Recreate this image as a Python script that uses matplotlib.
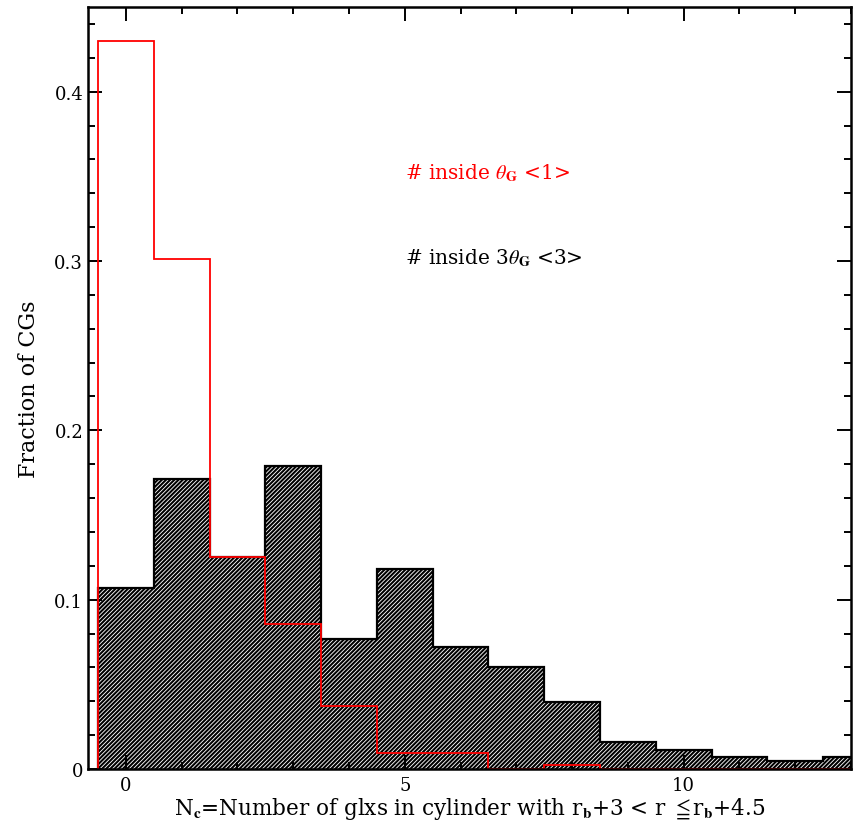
import numpy as np
import matplotlib
matplotlib.use("Agg")
import matplotlib.pyplot as plt
from matplotlib.ticker import MultipleLocator

# Data (bin centers 0..13)
bin_centers = list(range(14))
black_frac = [0.1066, 0.171, 0.125, 0.179, 0.0768, 0.118, 0.072, 0.060,
              0.0394, 0.0161, 0.0114, 0.0069, 0.0047, 0.0069]
red_frac = [0.430, 0.301, 0.125, 0.0856, 0.037, 0.0093, 0.0093, 0.0,
            0.0024, 0.0, 0.0, 0.0, 0.0, 0.0]
red_label = r"# inside $\theta_\mathbf{G}$ <1>"
black_label = r"# inside 3$\theta_\mathbf{G}$ <3>"

plt.rcParams['font.family'] = ['DejaVu Serif', 'DejaVu Sans', 'Noto Sans CJK JP']
plt.rcParams['mathtext.fontset'] = 'stix'
plt.rcParams['hatch.linewidth'] = 1.5

fig = plt.figure(figsize=(8.59, 8.28), dpi=100)
ax = fig.add_axes([88/859, 1-770/828, (851-88)/859, (770-8)/828])

edges = np.array(bin_centers + [bin_centers[-1] + 1], dtype=float) - 0.5

# hatched black histogram
ax.stairs(black_frac, edges, baseline=0, fill=True, facecolor='white',
          edgecolor='black', linewidth=0, hatch='////////', zorder=1)
ax.stairs(black_frac, edges, baseline=0, fill=False, color='black',
          linewidth=1.6, zorder=2)
# red histogram outline
ax.stairs(red_frac, edges, baseline=0, fill=False, color='red',
          linewidth=1.3, zorder=3)

ax.set_xlim(-0.68, 13.0)
ax.set_ylim(0, 0.45)

ax.xaxis.set_major_locator(MultipleLocator(5))
ax.xaxis.set_minor_locator(MultipleLocator(1))
ax.yaxis.set_major_locator(MultipleLocator(0.1))
ax.yaxis.set_minor_locator(MultipleLocator(0.02))
ax.yaxis.set_major_formatter(matplotlib.ticker.FuncFormatter(
    lambda v, p: "0" if abs(v) < 1e-9 else f"{v:.1f}"))
ax.tick_params(which='both', direction='in', top=True, right=True,
               labelsize=13, width=1.4)
ax.tick_params(which='major', length=10)
ax.tick_params(which='minor', length=5)
ax.tick_params(axis='x', pad=5)
for s in ax.spines.values():
    s.set_linewidth(1.8)
    s.set_zorder(5)

ax.set_xlabel(r"N$_\mathbf{c}$=Number of glxs in cylinder with r$_\mathbf{b}$+3 < r $\leqq$r$_\mathbf{b}$+4.5",
              fontsize=15.5, labelpad=1)
ax.set_ylabel("Fraction of CGs", fontsize=16, labelpad=10)

ax.text(5.0, 0.3526, red_label, color='red', fontsize=14.5, ha='left', va='center')
ax.text(5.0, 0.302, black_label, color='black', fontsize=14.5, ha='left', va='center')

fig.savefig("out.png", dpi=100)
